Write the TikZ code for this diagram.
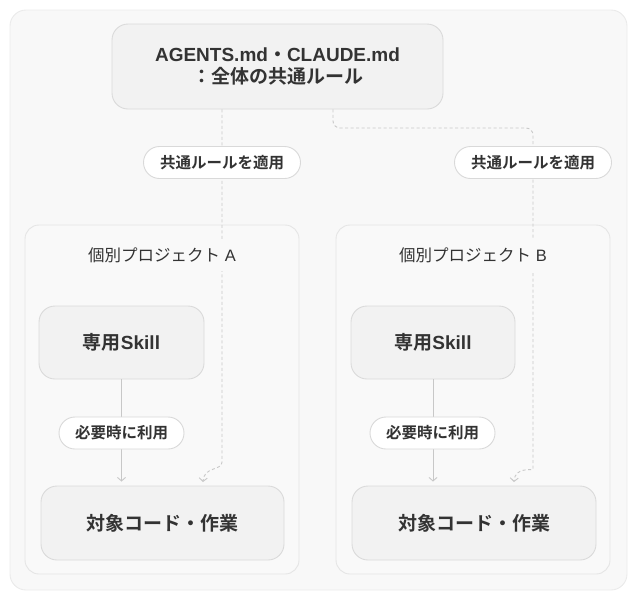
\documentclass[tikz,border=0pt]{standalone}
\usepackage{fontspec}
\setmainfont{Liberation Sans}
\newfontfamily\jp{Noto Sans CJK JP}[BoldFont={Noto Sans CJK JP Bold}]
\usetikzlibrary{arrows.meta,calc}
\definecolor{txt}{HTML}{333333}
\definecolor{boxfill}{HTML}{F2F2F2}
\definecolor{boxdraw}{HTML}{DADADA}
\definecolor{outfill}{HTML}{F8F8F8}
\definecolor{outdraw}{HTML}{EAEAEA}
\definecolor{contfill}{HTML}{F9F9F9}
\definecolor{contdraw}{HTML}{E5E5E5}
\definecolor{pilldraw}{HTML}{D9D9D9}
\definecolor{linecol}{HTML}{C8C8C8}
\tikzset{
  boxnode/.style={draw=boxdraw, fill=boxfill, rounded corners=16pt, line width=0.9pt,
    text=txt, font=\bfseries\fontsize{19}{23}\selectfont, inner sep=0pt, align=center},
  contnode/.style={draw=contdraw, fill=contfill, rounded corners=14pt, line width=0.9pt, inner sep=0pt},
  pillnode/.style={draw=pilldraw, fill=white, rounded corners=16pt, line width=0.9pt,
    minimum height=32pt, inner sep=0pt, text=txt, font=\bfseries\fontsize{15.5}{18}\selectfont},
  titlenode/.style={fill=contfill, inner xsep=0pt, inner ysep=8pt, text=txt,
    font=\fontsize{16.5}{20}\selectfont},
  tip/.style={-{Straight Barb[length=3.5pt,width=8pt,line width=0.9pt]}},
  ruleline/.style={draw=linecol, line width=0.9pt, dash pattern=on 3pt off 2.5pt, tip},
  useline/.style={draw=linecol, line width=0.9pt, tip, shorten >=4pt},
}
\begin{document}
\begin{tikzpicture}[x=1pt,y=-1pt]
\useasboundingbox (0,0) rectangle (637,600);
\node[draw=outdraw, fill=outfill, rounded corners=16pt, line width=0.9pt, inner sep=0pt,
  minimum width=617pt, minimum height=580pt] (outer) at (318.5,300) {};
\node[contnode, minimum width=274pt, minimum height=349pt] (contA) at (162,399.5) {};
\node[contnode, minimum width=274pt, minimum height=349pt] (contB) at (473,399.5) {};
\node[boxnode, minimum width=331pt, minimum height=85pt] (top) at (277.5,66.5)
  {AGENTS.md{\jp ・}CLAUDE.md\\[-1pt]{\jp ：全体の共通ルール}};
\node[boxnode, minimum width=165pt, minimum height=73pt] (skillA) at (121.5,342.5) {{\jp 専用}Skill};
\node[boxnode, minimum width=164pt, minimum height=73pt] (skillB) at (433,342.5) {{\jp 専用}Skill};
\node[boxnode, minimum width=243pt, minimum height=74pt] (tgtA) at (162.5,523) {\jp 対象コード・作業};
\node[boxnode, minimum width=244pt, minimum height=74pt] (tgtB) at (474,523) {\jp 対象コード・作業};
% connectors
\coordinate (aturnA) at (222,462);
\coordinate (aturnB) at (533,462);
\draw[ruleline] (top.south -| aturnA) -- (aturnA)
  .. controls (222,471) and (204,466) .. (203,482);
\draw[ruleline, rounded corners=7pt] ($(top.south)+(55.5,0)$) -- (333,128) -- (533,128) -- (aturnB)
  [sharp corners] .. controls (533,471) and (515,466) .. (514,482);
\draw[useline] (skillA) -- (skillA.south |- tgtA.north);
\draw[useline] (skillB) -- (skillB.south |- tgtB.north);
% labels
\node[pillnode, minimum width=157pt] (pillA) at (222,162.5) {\jp 共通ルールを適用};
\node[pillnode, minimum width=157pt] (pillB) at (533,162.5) {\jp 共通ルールを適用};
\node[pillnode, minimum width=125pt] (useA) at (121.5,433) {\jp 必要時に利用};
\node[pillnode, minimum width=125pt] (useB) at (432.5,433) {\jp 必要時に利用};
\node[titlenode] (titleA) at (162,255) {{\jp 個別プロジェクト} A};
\node[titlenode] (titleB) at (473,255) {{\jp 個別プロジェクト} B};
\end{tikzpicture}
\end{document}
